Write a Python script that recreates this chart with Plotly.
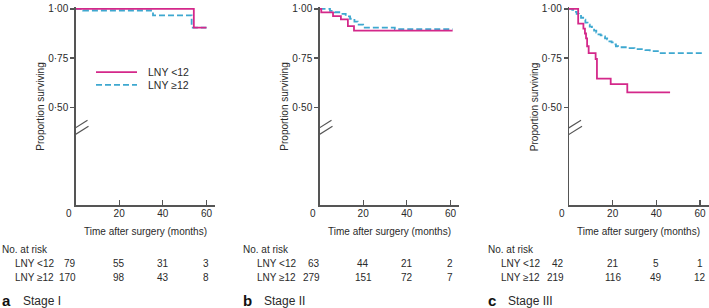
import plotly.graph_objects as go

W, H = 709, 308

# ---------------- data ----------------
panels = ["a", "b", "c"]
stage_names = ["Stage I", "Stage II", "Stage III"]
group_names = ["LNY <12", "LNY ≥12"]

# Panel a (Stage I)
a_lt12_t = [0, 54.2, 60]
a_lt12_s = [1.0, 0.905, 0.905]
a_ge12_t = [0, 3.5, 35.5, 53.2, 60]
a_ge12_s = [1.0, 0.992, 0.967, 0.905, 0.905]

# Panel b (Stage II)
b_lt12_t = [0, 0.8, 6.2, 9.8, 13.0, 15.8, 61]
b_lt12_s = [1.0, 0.982, 0.963, 0.947, 0.912, 0.89, 0.89]
b_ge12_t = [0, 4.8, 7, 10, 12, 14, 16, 17.5, 20, 34.5, 61]
b_ge12_s = [1.0, 0.99, 0.983, 0.975, 0.962, 0.95, 0.935, 0.92, 0.905, 0.897, 0.897]

# Panel c (Stage III)
c_lt12_t = [0, 4.2, 6.6, 7.3, 7.8, 8.3, 9.0, 12.2, 12.8, 19.1, 26.7, 46.3]
c_lt12_s = [1.0, 0.925, 0.90, 0.875, 0.85, 0.81, 0.775, 0.745, 0.645, 0.617, 0.575, 0.575]
c_ge12_t = [0, 1.5, 2.5, 3.5, 4.5, 5.5, 6.5, 7.5, 8.5, 9.5, 10.5, 11.5, 12.5, 13.5,
            14.5, 15.5, 16.5, 17.5, 18.5, 19.5, 20.5, 21.5, 22.5, 26, 30, 35, 37, 41.5, 61]
c_ge12_s = [1.0, 0.995, 0.985, 0.975, 0.965, 0.955, 0.945, 0.93, 0.92, 0.91, 0.90, 0.89,
            0.88, 0.87, 0.865, 0.86, 0.85, 0.845, 0.835, 0.83, 0.82, 0.81, 0.805, 0.80,
            0.795, 0.79, 0.785, 0.775, 0.775]

# Numbers at risk (columns at 0, 20, 40, 60 months)
risk_months = [0, 20, 40, 60]
risk_a_lt12 = [79, 55, 31, 3]
risk_a_ge12 = [170, 98, 43, 8]
risk_b_lt12 = [63, 44, 21, 2]
risk_b_ge12 = [279, 151, 72, 7]
risk_c_lt12 = [42, 21, 5, 1]
risk_c_ge12 = [219, 116, 49, 12]

y_tickvals = [0.5, 0.75, 1.0]
y_ticktext = ["0·50", "0·75", "1·00"]
x_tickvals = [20, 40, 60]
x_ticktext = ["20", "40", "60"]

# ---------------- style / layout ----------------
PINK = "#d4288a"
BLUE = "#3ea8d0"
AXC = "#555555"
TXT = "#2a2a2a"
FONT = "Liberation Sans, Arial, sans-serif"

curves = [
    (a_lt12_t, a_lt12_s, a_ge12_t, a_ge12_s),
    (b_lt12_t, b_lt12_s, b_ge12_t, b_ge12_s),
    (c_lt12_t, c_lt12_s, c_ge12_t, c_ge12_s),
]
risks = [(risk_a_lt12, risk_a_ge12), (risk_b_lt12, risk_b_ge12), (risk_c_lt12, risk_c_ge12)]

axis_left_px = [75.5, 319.5, 569.0]
px_per_month = 2.183
XMAX = 64
axis_w = XMAX * px_per_month
y_top_px, y_bot_px = 3.0, 204.0   # y range [0, 1.01]
YMAX = 1.01
ydom = [1 - y_bot_px / H, 1 - y_top_px / H]

table_left_px = [0, 241, 486]
rowlab_left_px = [13, 255, 499]
stage_left_px = [21, 262, 506]
first_col_shift = [2, 2, -3]

def py(px):
    return 1 - px / H

fig = go.Figure()
layout = dict(
    width=W, height=H,
    margin=dict(l=0, r=0, t=0, b=0),
    paper_bgcolor="white", plot_bgcolor="white",
    showlegend=False,
    font=dict(family=FONT, size=10, color=TXT),
)
annotations = []
shapes = []

for i in range(3):
    xs = "" if i == 0 else str(i + 1)
    xa, ya = "x" + xs, "y" + xs
    t1, s1, t2, s2 = curves[i]
    fig.add_trace(go.Scatter(x=t2, y=s2, mode="lines", line=dict(color=BLUE, width=1.8, dash="6px,3px", shape="hv"),
                             name=group_names[1], xaxis=xa, yaxis=ya, hoverinfo="skip"))
    fig.add_trace(go.Scatter(x=t1, y=s1, mode="lines", line=dict(color=PINK, width=1.8, shape="hv"),
                             name=group_names[0], xaxis=xa, yaxis=ya, hoverinfo="skip"))
    x0 = axis_left_px[i] / W
    layout["xaxis" + xs] = dict(
        domain=[x0, min(1.0, (axis_left_px[i] + axis_w) / W)], range=[0, XMAX], anchor=ya,
        showgrid=False, zeroline=False, showline=True, linecolor=AXC, linewidth=1.3,
        ticks="inside", ticklen=5, tickwidth=1.2, tickcolor=AXC,
        tickvals=x_tickvals, ticktext=x_ticktext, tickfont=dict(size=10, color=TXT),
        ticklabelstandoff=-2, ticklabeloverflow="allow", fixedrange=True,
    )
    layout["yaxis" + xs] = dict(
        domain=ydom, range=[0, YMAX], anchor=xa,
        showgrid=False, zeroline=False, showline=True, linecolor=AXC, linewidth=1.3,
        ticks="outside", ticklen=4, tickwidth=1.2, tickcolor=AXC,
        tickvals=y_tickvals, ticktext=y_ticktext, tickfont=dict(size=10, color=TXT),
        ticklabeloverflow="allow", fixedrange=True,
    )
    # "0" x label, offset left of axis
    annotations.append(dict(xref=xa, yref=ya, x=0, y=0, text="0", showarrow=False,
                            xshift=-7, yshift=-8, xanchor="center", yanchor="middle",
                            font=dict(size=10, color=TXT)))
    # axis titles
    annotations.append(dict(xref=xa, yref=ya, x=0, y=0.5, text="Proportion surviving", showarrow=False,
                            textangle=-90, xshift=-35, xanchor="center", yanchor="middle",
                            font=dict(size=10, color=TXT)))
    annotations.append(dict(xref=xa + " domain", yref=ya, x=0.5, y=0, text="Time after surgery (months)",
                            showarrow=False, yshift=-26, xanchor="center", yanchor="middle",
                            font=dict(size=10, color=TXT)))
    # axis break marks
    for (ax0, ay0, ax1, ay1) in [(-12, -3, 12, 12), (-11, -9, 13, 6)]:
        shapes.append(dict(type="line", xref=xa, yref=ya, xsizemode="pixel", ysizemode="pixel",
                           xanchor=0, yanchor=0.372, x0=ax0, y0=ay0, x1=ax1, y1=ay1,
                           line=dict(color=AXC, width=1.2)))
    # risk table
    annotations.append(dict(xref="paper", yref="paper", x=table_left_px[i] / W, y=py(249), text="No. at risk",
                            showarrow=False, xanchor="left", yanchor="middle", font=dict(size=10, color=TXT)))
    for r, (lab, vals) in enumerate(zip(group_names, risks[i])):
        yy = py(263 + 14 * r)
        annotations.append(dict(xref="paper", yref="paper", x=rowlab_left_px[i] / W, y=yy, text=lab,
                                showarrow=False, xanchor="left", yanchor="middle", font=dict(size=10, color=TXT)))
        for k, (m, v) in enumerate(zip(risk_months, vals)):
            if k == 0:
                annotations.append(dict(xref=xa, yref="paper", x=m, y=yy, text=str(v), showarrow=False,
                                        xanchor="right", xshift=first_col_shift[i], yanchor="middle",
                                        font=dict(size=10, color=TXT)))
            else:
                annotations.append(dict(xref=xa, yref="paper", x=m, y=yy, text=str(v), showarrow=False,
                                        xanchor="center", yanchor="middle", font=dict(size=10, color=TXT)))
    # panel label
    annotations.append(dict(xref="paper", yref="paper", x=table_left_px[i] / W, y=py(300), text="<b>%s</b>" % panels[i],
                            showarrow=False, xanchor="left", yanchor="middle", font=dict(size=15, color="#111111")))
    annotations.append(dict(xref="paper", yref="paper", x=stage_left_px[i] / W, y=py(301), text=stage_names[i],
                            showarrow=False, xanchor="left", yanchor="middle", font=dict(size=12, color=TXT)))

# legend (panel a)
shapes.append(dict(type="line", xref="paper", yref="paper", x0=96 / W, x1=137 / W, y0=py(69), y1=py(69),
                   line=dict(color=PINK, width=1.8)))
shapes.append(dict(type="line", xref="paper", yref="paper", x0=96 / W, x1=137 / W, y0=py(82), y1=py(82),
                   line=dict(color=BLUE, width=1.8, dash="6px,3px")))
annotations.append(dict(xref="paper", yref="paper", x=146 / W, y=py(69), text=group_names[0], showarrow=False,
                        xanchor="left", yanchor="middle", font=dict(size=10.5, color=TXT)))
annotations.append(dict(xref="paper", yref="paper", x=146 / W, y=py(82), text=group_names[1], showarrow=False,
                        xanchor="left", yanchor="middle", font=dict(size=10.5, color=TXT)))

layout["annotations"] = annotations
layout["shapes"] = shapes
fig.update_layout(**layout)
fig.write_html(
    "out.html",
    config={"displayModeBar": False, "staticPlot": True},
    post_script="document.body.style.margin='0';document.body.style.overflow='hidden';",
)
